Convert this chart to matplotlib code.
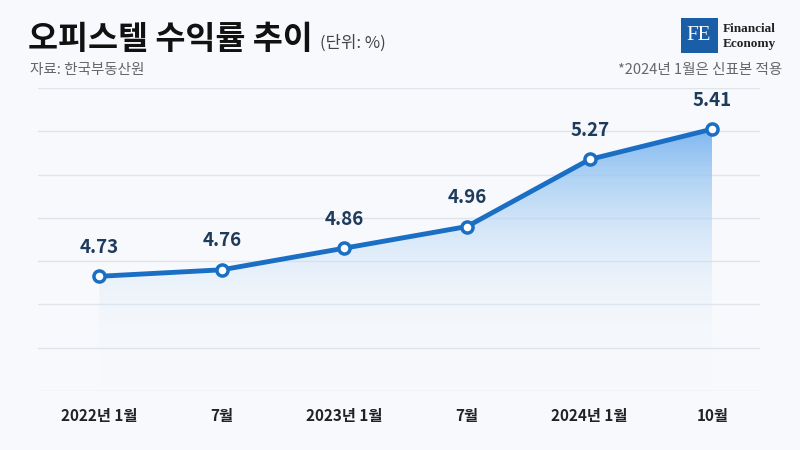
import matplotlib
matplotlib.use("Agg")
import matplotlib.pyplot as plt
import numpy as np
from matplotlib.patches import Polygon, Rectangle
from matplotlib.colors import LinearSegmentedColormap

plt.rcParams['font.family'] = ['Noto Sans CJK KR', 'DejaVu Sans']

categories = ["2022년 1월", "7월", "2023년 1월", "7월", "2024년 1월", "10월"]
values = [4.73, 4.76, 4.86, 4.96, 5.27, 5.41]

bg = "#f7f9fc"
line_c = "#1a6fc4"
fig = plt.figure(figsize=(8, 4.5), dpi=100, facecolor=bg)
ax = fig.add_axes([38/800, 1-391/450, (760-38)/800, (391-88)/450], facecolor=bg)
x = np.arange(len(values))
ax.set_xlim(-0.5, 5.39)
ax.set_ylim(4.2, 5.6)
for v in np.arange(4.2, 5.61, 0.2):
    ax.axhline(v, color="#dfe3ea", lw=1, zorder=0)

grad = np.linspace(0, 1, 256).reshape(-1, 1) ** 1.3
cmap = LinearSegmentedColormap.from_list("g", [(0.97, 0.98, 0.99, 0.0), "#7fb8f0"])
im = ax.imshow(grad, cmap=cmap, aspect="auto", extent=[x[0], x[-1], 4.2, 5.41],
               origin="lower", zorder=1)
poly = Polygon(list(zip(x, values)) + [(x[-1], 4.2), (x[0], 4.2)], closed=True,
               transform=ax.transData, facecolor="none", edgecolor="none")
ax.add_patch(poly)
im.set_clip_path(poly)

ax.plot(x, values, color=line_c, lw=3.5, zorder=3, solid_capstyle="round")
ax.plot(x, values, 'o', ms=8, mfc="white", mec=line_c, mew=2.5, zorder=4)
for xi, v in zip(x, values):
    ax.annotate(f"{v:.2f}", (xi, v), xytext=(0, 14), textcoords="offset points",
                ha="center", va="bottom", fontsize=13.5, fontweight="bold", color="#1f3b5c")

ax.set_xticks(x)
ax.set_xticklabels(categories, fontsize=11, fontweight="bold", color="#222")
ax.tick_params(axis="x", length=0, pad=12)
ax.set_yticks([])
for s in ax.spines.values():
    s.set_visible(False)

fig.text(28/800, 1-40/450, "오피스텔 수익률 추이", fontsize=23.5, fontweight="bold", color="#111", va="center")
fig.text(320/800, 1-43/450, "(단위: %)", fontsize=12, color="#444", va="center")
fig.text(30/800, 1-70/450, "자료: 한국부동산원", fontsize=10.5, color="#666", va="center")
fig.text(782/800, 1-70/450, "*2024년 1월은 신표본 적용", fontsize=10.5, color="#666", va="center", ha="right")

fig.patches.append(Rectangle((681/800, 1-53/450), 37/800, 35/450, transform=fig.transFigure,
                             facecolor="#1a5ea8", edgecolor="none"))
fig.text(699/800, 1-36/450, "FE", fontsize=15, color="white", family="Liberation Serif",
         ha="center", va="center")
fig.text(723/800, 1-29/450, "Financial", fontsize=9.5, color="#222", family="Liberation Serif",
         fontweight="bold", va="center")
fig.text(723/800, 1-44/450, "Economy", fontsize=9.5, color="#222", family="Liberation Serif",
         fontweight="bold", va="center")

fig.savefig("out.png", dpi=100, facecolor=bg)
